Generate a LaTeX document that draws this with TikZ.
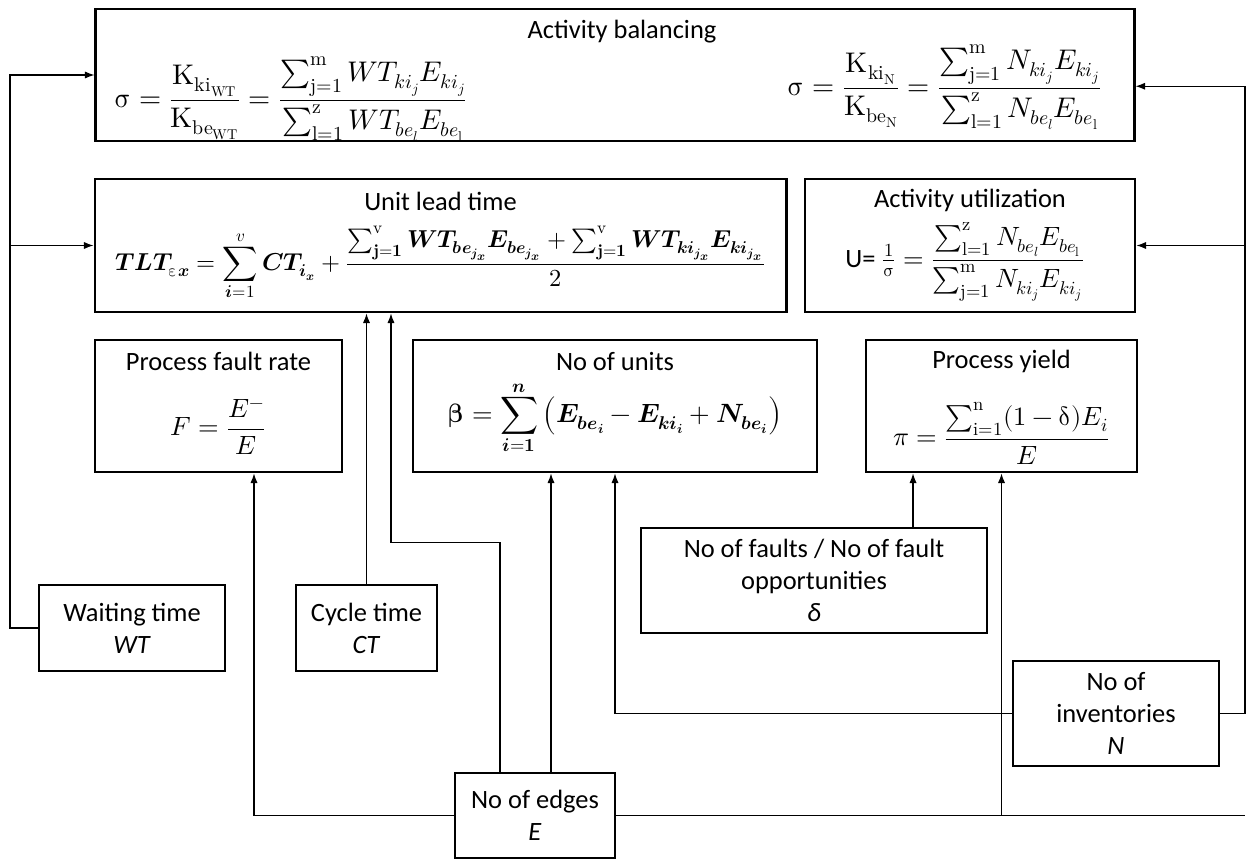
\documentclass[tikz,border=0pt]{standalone}
\usepackage{amsmath}
\usepackage{fontspec}
\usepackage{unicode-math}
\setmainfont{Carlito}
\setmathfont{Latin Modern Math}
\usetikzlibrary{arrows.meta}
\usetikzlibrary{calc}
\newcommand{\bfi}[1]{\symbfit{#1}}
\tikzset{
  block/.style={draw, line width=2pt, inner sep=0pt},
  txt/.style={font=\fontsize{18.8}{22.8}\selectfont, align=center, inner sep=0pt},
  bigtxt/.style={txt, font=\fontsize{20.2}{24}\selectfont},
  smalltxt/.style={txt, font=\fontsize{17.4}{21}\selectfont},
  link/.style={-{Latex[length=2.4mm,width=1.8mm]}, line width=0.8pt},
  wire/.style={line width=0.8pt},
}

\begin{document}
\begin{tikzpicture}[x=0.025cm,y=-0.025cm]
    \useasboundingbox (0,0) rectangle (1247,859);

    % Result blocks
    \node[block, minimum width=25.95cm, minimum height=3.3cm] (bal) at (615,75) {};
    \node[block, minimum width=17.275cm, minimum height=3.325cm] (ult) at (440.5,245.5) {};
    \node[block, minimum width=8.25cm, minimum height=3.325cm] (util) at (970,245.5) {};
    \node[block, minimum width=6.175cm, minimum height=3.3cm] (pfr) at (218.5,406) {};
    \node[block, minimum width=10.1cm, minimum height=3.3cm] (units) at (615,406) {};
    \node[block, minimum width=6.775cm, minimum height=3.3cm] (yield) at (1001.5,406) {};

    % Titles
    \node[txt] (baltitle) at ($(bal.north)+(7,24)$) {Activity balancing};
    \node[txt] (ulttitle) at ($(ult.north)+(0,24)$) {Unit lead time};
    \node[txt] (utiltitle) at ($(util.north)+(0,23)$) {Activity utilization};
    \node[txt] (pfrtitle) at ($(pfr.north)+(0,23)$) {Process fault rate};
    \node[txt] (unitstitle) at ($(units.north)+(0,23)$) {No of units};
    \node[txt] (yieldtitle) at ($(yield.north)+(0,23)$) {Process yield};

    % Formulas
    \node[bigtxt, anchor=west] (balwt) at (114,99)
      {$\displaystyle\symup{\sigma}=\frac{\symup{K}_{\symup{ki}_{\symup{WT}}}}{\symup{K}_{\symup{be}_{\symup{WT}}}}=\frac{\sum_{\symup{j=1}}^{\symup{m}}WT_{ki_j}E_{ki_j}}{\sum_{\symup{l=1}}^{\symup{z}}WT_{be_l}E_{be_{\symup{l}}}}$};
    \node[bigtxt, anchor=east] (baln) at (1102,87)
      {$\displaystyle\symup{\sigma}=\frac{\symup{K}_{\symup{ki}_{\symup{N}}}}{\symup{K}_{\symup{be}_{\symup{N}}}}=\frac{\sum_{\symup{j=1}}^{\symup{m}}N_{ki_j}E_{ki_j}}{\sum_{\symup{l=1}}^{\symup{z}}N_{be_l}E_{be_{\symup{l}}}}$};
    \node[smalltxt, anchor=west] (tlt) at (115,263)
      {$\displaystyle\bfi{TLT}_{\symup{\varepsilon}\bfi{x}}=\sum_{\bfi{i}=1}^{v}\bfi{CT}_{\bfi{i}_{\bfi{x}}}+\frac{\sum_{\symbfup{j=1}}^{\symup{v}}\bfi{WT}_{\bfi{be}_{\bfi{j}_{\bfi{x}}}}\bfi{E}_{\bfi{be}_{\bfi{j}_{\bfi{x}}}}+\sum_{\symbfup{j=1}}^{\symup{v}}\bfi{WT}_{\bfi{ki}_{\bfi{j}_{\bfi{x}}}}\bfi{E}_{\bfi{ki}_{\bfi{j}_{\bfi{x}}}}}{2}$};
    \node[txt, anchor=west] (uform) at (845,262)
      {U= $\tfrac{1}{\symup{\sigma}}=\dfrac{\sum_{\symup{l=1}}^{\symup{z}}N_{be_l}E_{be_{\symup{l}}}}{\sum_{\symup{j=1}}^{\symup{m}}N_{ki_j}E_{ki_j}}$};
    \node[txt] (fform) at (pfr.center |- 0,427) {$\displaystyle F=\frac{E^{-}}{E}$};
    \node[txt] (bform) at (units.center |- 0,418)
      {$\symbfup{\beta}=\displaystyle\sum_{\bfi{i}=\symbf{1}}^{\bfi{n}}\left(\bfi{E}_{\bfi{be}_{\bfi{i}}}-\bfi{E}_{\bfi{ki}_{\bfi{i}}}+\bfi{N}_{\bfi{be}_{\bfi{i}}}\right)$};
    \node[txt] (pform) at (yield.center |- 0,433)
      {$\displaystyle\pi=\frac{\sum_{\symup{i=1}}^{\symup{n}}(1-\symup{\delta})E_{i}}{E}$};

    % Input blocks
    \node[block, txt, minimum width=4.65cm, minimum height=2.15cm] (wait) at (132,628) {Waiting time\\\textit{WT}};
    \node[block, txt, minimum width=3.525cm, minimum height=2.15cm] (cycle) at (366.5,628) {Cycle time\\\textit{CT}};
    \node[block, txt, minimum width=8.65cm, minimum height=2.625cm] (fault) at (814,580.5) {No of faults / No of fault\\opportunities\\\textit{δ}};
    \node[block, txt, minimum width=5.15cm, minimum height=2.625cm] (inv) at (1116,713.5) {No of\\inventories\\\textit{N}};
    \node[block, txt, minimum width=4cm, minimum height=2.125cm] (edges) at (535,815.5) {No of edges\\\textit{E}};

    % Buses
    \coordinate (lbus) at (10,628);
    \coordinate (rbus) at (1245,713.5);

    % Connectors
    \draw[link] (wait.west) -- (lbus) |- (bal.west);
    \draw[link] (lbus |- ult.west) -- (ult.west);
    \draw[link] (inv.east) -- (rbus) |- ([yshift=-8pt]bal.east);
    \draw[link] (rbus |- util.east) -- (util.east);
    \draw[link] (cycle.north) -- (cycle.north |- ult.south);
    \draw[link] ([xshift=-0.875cm]edges.north) -- ++(0,-229) -| ([xshift=-1.2375cm]ult.south);
    \draw[link] ([xshift=0.4cm]edges.north) -- ([xshift=0.4cm]edges.north |- units.south);
    \draw[link] (edges.west) -| ([xshift=0.8875cm]pfr.south);
    \draw[wire] (edges.east) -- (edges.east -| rbus);
    \draw[link] (yield.south |- edges.east) -- (yield.south);
    \draw[link] (inv.west) -| (units.south);
    \draw[link] ([xshift=2.475cm]fault.north) -- ([xshift=2.475cm]fault.north |- yield.south);

\end{tikzpicture}
\end{document}
